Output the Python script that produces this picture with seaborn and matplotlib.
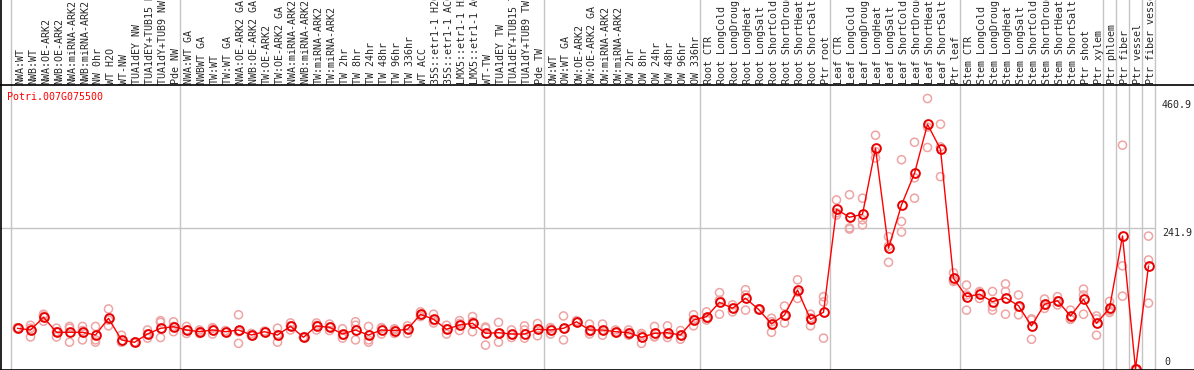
import numpy as np
import pandas as pd
import matplotlib.pyplot as plt
from matplotlib.lines import Line2D
from matplotlib.transforms import blended_transform_factory
import seaborn as sns

# --- data ---
gene = "Potri.007G075500"

labels_nw = ["NWA:WT", "NWB:WT", "NWA:OE-ARK2", "NWB:OE-ARK2", "NWA:miRNA-ARK2",
             "NWB:miRNA-ARK2", "NW 0hr", "WT H2O", "WT-NW", "TUA1dEY NW",
             "TUA1dEY+TUB15 NW", "TUA1dY+TUB9 NW", "Pde NW"]
labels_tw = ["NWA:WT GA", "NWBWT GA", "TW:WT", "TW:WT GA", "NWA:OE-ARK2 GA",
             "NWB:OE-ARK2 GA", "TW:OE-ARK2", "TW:OE-ARK2 GA", "NWA:miRNA-ARK2 GA",
             "NWB:miRNA-ARK2 GA", "TW:miRNA-ARK2", "TW:miRNA-ARK2", "TW 2hr", "TW 8hr",
             "TW 24hr", "TW 48hr", "TW 96hr", "TW 336hr", "WT ACC", "35S::etr1-1 H2O",
             "35S::etr1-1 ACC", "LMX5::etr1-1 H2O", "LMX5::etr1-1 ACC", "WT-TW",
             "TUA1dEY TW", "TUA1dEY+TUB15 TW", "TUA1dY+TUB9 TW", "Pde TW"]
labels_ow = ["OW:WT", "OW:WT GA", "OW:OE-ARK2", "OW:OE-ARK2 GA", "OW:miRNA-ARK2",
             "OW:miRNA-ARK2", "OW 2hr", "OW 8hr", "OW 24hr", "OW 48hr", "OW 96hr", "OW 336hr"]
stress = ["CTR", "LongCold", "LongDrought", "LongHeat", "LongSalt",
          "ShortCold", "ShortDrought", "ShortHeat", "ShortSalt"]
labels_root = ["Root " + s for s in stress] + ["Ptr root"]
labels_leaf = ["Leaf " + s for s in stress] + ["Ptr leaf"]
labels_stem = ["Stem " + s for s in stress] + ["Ptr shoot", "Ptr xylem"]
labels_ptr = ["Ptr phloem", "Ptr fiber", "Ptr vessel", "Ptr fiber vessel"]

labels = labels_nw + labels_tw + labels_ow + labels_root + labels_leaf + labels_stem + labels_ptr
group_sizes = [len(labels_nw), len(labels_tw), len(labels_ow), len(labels_root),
               len(labels_leaf), len(labels_stem), 1, 1, 1, 1]

means = [69.8, 66.9, 88.7, 63.0, 63.0, 63.0, 58.3, 87.0, 49.8, 45.8, 60.0, 69.8, 72.6,
         66.9, 64.0, 66.9, 64.0, 66.9, 58.3, 64.0, 58.3, 73.3, 54.4, 73.8, 71.5, 60.0, 66.9,
         58.3, 66.9, 65.7, 68.1, 93.8, 85.3, 68.1, 75.5, 78.4, 61.2, 62.3, 60.0, 60.0, 68.1,
         66.9, 69.8, 81.1, 66.9, 66.9, 64.0, 62.3, 54.4, 61.2, 62.3, 58.3, 84.1,
         89.7, 114.4, 104.1, 121.3, 102.4, 77.2, 92.6, 135.5, 85.3, 97.3,
         274.0, 260.3, 265.4, 378.6, 207.1, 281.4, 335.7, 419.8, 376.9, 155.6,
         124.1, 128.2, 115.5, 122.3, 108.6, 73.8, 111.0, 117.2, 90.9, 119.6, 78.4,
         104.1, 228.2, 0.0, 176.7]

reps = [[71, 69, 70], [75, 55, 70], [94, 91, 82], [70, 55, 64], [73, 70, 46],
        [73, 50, 66], [73, 50, 46], [103, 74, 84], [58, 46, 46], [46, 46, 45],
        [53, 67, 60], [83, 80, 54], [81, 64, 73],
        [73, 61, 67], [67, 61, 64], [70, 60, 71], [66, 63, 63], [93, 44, 64],
        [61, 57, 57], [64, 65, 63], [70, 46, 59], [79, 67, 74], [54, 55, 54],
        [79, 67, 75], [77, 66, 72], [69, 53, 58], [81, 75, 50], [73, 50, 46],
        [70, 60, 71], [67, 61, 69], [74, 61, 69], [98, 93, 90], [94, 79, 83],
        [75, 60, 69], [83, 66, 78], [90, 64, 81], [70, 41, 72], [80, 46, 61],
        [67, 54, 59], [74, 67, 53], [78, 57, 69],
        [70, 60, 71], [91, 50, 69], [81, 83, 80], [77, 60, 64], [77, 58, 66],
        [67, 63, 62], [67, 58, 62], [61, 44, 58], [73, 55, 56], [74, 54, 59],
        [66, 51, 58], [93, 74, 85],
        [98, 84, 87], [131, 94, 118], [110, 98, 104], [136, 101, 127], [102, 103, 102],
        [87, 81, 63], [108, 79, 91], [153, 121, 132], [94, 74, 88], [124, 115, 53],
        [290, 264, 268], [299, 240, 242], [293, 247, 256], [401, 362, 373],
        [227, 183, 211], [359, 253, 235], [389, 328, 293], [464, 380, 415],
        [420, 330, 381], [165, 150, 152],
        [144, 101, 127], [131, 121, 133], [133, 107, 101], [146, 133, 94],
        [127, 93, 106], [86, 51, 84], [120, 104, 109], [124, 110, 117],
        [101, 85, 86], [137, 127, 94], [91, 58, 86],
        [116, 97, 100], [384, 177, 125], [0, 0, 0], [228, 187, 113]]

ref_line = 241.9
max_val = 460.9
y_top = 487.2

# --- style ---
sns.set_style("white")
plt.rcParams['font.family'] = ['DejaVu Sans Mono']
fs = 7.2
grid_col = '#c4c4c4'

W, H = 1194, 370
fig = plt.figure(figsize=(W / 100, H / 100), dpi=100)
left, right, top, bottom = 11, 1155, 85, 369
ax = fig.add_axes([left / W, (H - bottom) / H, (right - left) / W, (bottom - top) / H])
n = len(labels)
ax.set_xlim(-0.5, n - 0.5)
ax.set_ylim(0, y_top)
ax.axis('off')

# group separators run through the label strip too
edges = np.concatenate([[0], np.cumsum(group_sizes)]) - 0.5
for e in edges:
    ax.axvline(e, ymin=0, ymax=bottom / (bottom - top), color=grid_col, lw=1,
               clip_on=False, zorder=0)
ax.axhline(ref_line, xmin=-left / (right - left), xmax=1, color=grid_col, lw=1,
           clip_on=False, zorder=0)

# replicates
rep_df = pd.DataFrame([(i, v) for i, r in enumerate(reps) for v in r], columns=['col', 'value'])
sns.scatterplot(data=rep_df, x='col', y='value', ax=ax, s=34, marker='o',
                legend=False, zorder=2)
pts = ax.collections[-1]
pts.set_facecolor('none')
pts.set_edgecolor('#eea4a4')
pts.set_linewidth(1.1)

# means
sns.lineplot(x=np.arange(n), y=means, ax=ax, color='#ff0000', linewidth=1.0,
             marker='o', markersize=6.3, markerfacecolor='none',
             markeredgecolor='#e80000', markeredgewidth=1.4, zorder=3)

# column labels
tr = blended_transform_factory(ax.transData, fig.transFigure)
for i, lab in enumerate(labels):
    ax.text(i + 0.2, (H - 84) / H, lab, transform=tr, rotation=90, ha='center',
            va='bottom', fontsize=fs, clip_on=False)

# value labels on the right
tr2 = blended_transform_factory(fig.transFigure, ax.transData)
for v, txt in [(max_val, '460.9'), (ref_line, '241.9')]:
    ax.text(1162 / W, v, txt, transform=tr2, ha='left', va='top', fontsize=fs)
ax.annotate('0', xy=(1164 / W, 0), xycoords=tr2, xytext=(0, 2),
            textcoords='offset pixels', ha='left', va='bottom', fontsize=fs)

fig.text(7 / W, (H - 97) / H, gene, color='#ff0000', fontsize=fs, ha='left', va='center')

# frame
fig.add_artist(Line2D([0, 1], [(H - 85) / H] * 2, transform=fig.transFigure, color='black', lw=1.2))
fig.add_artist(Line2D([0, 1], [(H - 369.5) / H] * 2, transform=fig.transFigure, color='black', lw=1.2))
fig.add_artist(Line2D([1 / W, 1 / W], [0, 1], transform=fig.transFigure, color='black', lw=1.2))

fig.savefig('out.png', dpi=100)
